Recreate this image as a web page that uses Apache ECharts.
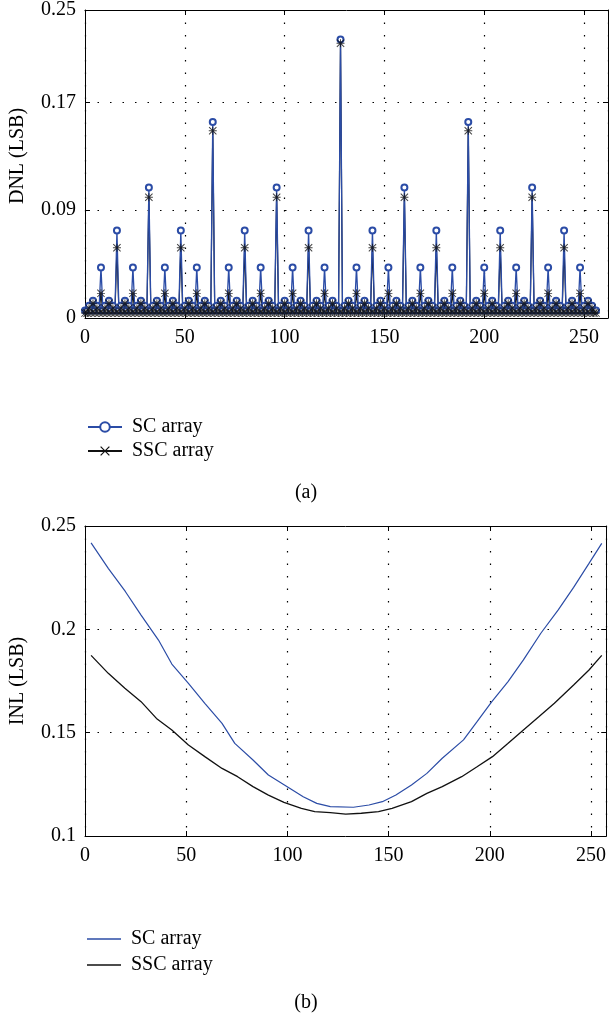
<!DOCTYPE html>
<html><head><meta charset="utf-8">
<script src="https://cdn.jsdelivr.net/npm/echarts@6/dist/echarts.min.js"></script>
<style>html,body{margin:0;padding:0;background:#fff}#c{width:609px;height:1020px}</style>
</head><body><div id="c"></div>
<script>
// ---------- (a) DNL data, code index 0..256 ----------
const dnlSC = [
0.006,0.006,0.010,0.006,0.014,0.006,0.010,0.006,
0.041,0.006,0.010,0.006,0.014,0.006,0.010,0.006,
0.071,0.006,0.010,0.006,0.014,0.006,0.010,0.006,
0.041,0.006,0.010,0.006,0.014,0.006,0.010,0.006,
0.106,0.006,0.010,0.006,0.014,0.006,0.010,0.006,
0.041,0.006,0.010,0.006,0.014,0.006,0.010,0.006,
0.071,0.006,0.010,0.006,0.014,0.006,0.010,0.006,
0.041,0.006,0.010,0.006,0.014,0.006,0.010,0.006,
0.159,0.006,0.010,0.006,0.014,0.006,0.010,0.006,
0.041,0.006,0.010,0.006,0.014,0.006,0.010,0.006,
0.071,0.006,0.010,0.006,0.014,0.006,0.010,0.006,
0.041,0.006,0.010,0.006,0.014,0.006,0.010,0.006,
0.106,0.006,0.010,0.006,0.014,0.006,0.010,0.006,
0.041,0.006,0.010,0.006,0.014,0.006,0.010,0.006,
0.071,0.006,0.010,0.006,0.014,0.006,0.010,0.006,
0.041,0.006,0.010,0.006,0.014,0.006,0.010,0.006,
0.226,0.006,0.010,0.006,0.014,0.006,0.010,0.006,
0.041,0.006,0.010,0.006,0.014,0.006,0.010,0.006,
0.071,0.006,0.010,0.006,0.014,0.006,0.010,0.006,
0.041,0.006,0.010,0.006,0.014,0.006,0.010,0.006,
0.106,0.006,0.010,0.006,0.014,0.006,0.010,0.006,
0.041,0.006,0.010,0.006,0.014,0.006,0.010,0.006,
0.071,0.006,0.010,0.006,0.014,0.006,0.010,0.006,
0.041,0.006,0.010,0.006,0.014,0.006,0.010,0.006,
0.159,0.006,0.010,0.006,0.014,0.006,0.010,0.006,
0.041,0.006,0.010,0.006,0.014,0.006,0.010,0.006,
0.071,0.006,0.010,0.006,0.014,0.006,0.010,0.006,
0.041,0.006,0.010,0.006,0.014,0.006,0.010,0.006,
0.106,0.006,0.010,0.006,0.014,0.006,0.010,0.006,
0.041,0.006,0.010,0.006,0.014,0.006,0.010,0.006,
0.071,0.006,0.010,0.006,0.014,0.006,0.010,0.006,
0.041,0.006,0.010,0.006,0.014,0.006,0.010,0.006,
0.006
];
const dnlSSC = [
0.004,0.004,0.008,0.004,0.012,0.004,0.008,0.004,
0.020,0.004,0.008,0.004,0.012,0.004,0.008,0.004,
0.057,0.004,0.008,0.004,0.012,0.004,0.008,0.004,
0.020,0.004,0.008,0.004,0.012,0.004,0.008,0.004,
0.098,0.004,0.008,0.004,0.012,0.004,0.008,0.004,
0.020,0.004,0.008,0.004,0.012,0.004,0.008,0.004,
0.057,0.004,0.008,0.004,0.012,0.004,0.008,0.004,
0.020,0.004,0.008,0.004,0.012,0.004,0.008,0.004,
0.152,0.004,0.008,0.004,0.012,0.004,0.008,0.004,
0.020,0.004,0.008,0.004,0.012,0.004,0.008,0.004,
0.057,0.004,0.008,0.004,0.012,0.004,0.008,0.004,
0.020,0.004,0.008,0.004,0.012,0.004,0.008,0.004,
0.098,0.004,0.008,0.004,0.012,0.004,0.008,0.004,
0.020,0.004,0.008,0.004,0.012,0.004,0.008,0.004,
0.057,0.004,0.008,0.004,0.012,0.004,0.008,0.004,
0.020,0.004,0.008,0.004,0.012,0.004,0.008,0.004,
0.223,0.004,0.008,0.004,0.012,0.004,0.008,0.004,
0.020,0.004,0.008,0.004,0.012,0.004,0.008,0.004,
0.057,0.004,0.008,0.004,0.012,0.004,0.008,0.004,
0.020,0.004,0.008,0.004,0.012,0.004,0.008,0.004,
0.098,0.004,0.008,0.004,0.012,0.004,0.008,0.004,
0.020,0.004,0.008,0.004,0.012,0.004,0.008,0.004,
0.057,0.004,0.008,0.004,0.012,0.004,0.008,0.004,
0.020,0.004,0.008,0.004,0.012,0.004,0.008,0.004,
0.152,0.004,0.008,0.004,0.012,0.004,0.008,0.004,
0.020,0.004,0.008,0.004,0.012,0.004,0.008,0.004,
0.057,0.004,0.008,0.004,0.012,0.004,0.008,0.004,
0.020,0.004,0.008,0.004,0.012,0.004,0.008,0.004,
0.098,0.004,0.008,0.004,0.012,0.004,0.008,0.004,
0.020,0.004,0.008,0.004,0.012,0.004,0.008,0.004,
0.057,0.004,0.008,0.004,0.012,0.004,0.008,0.004,
0.020,0.004,0.008,0.004,0.012,0.004,0.008,0.004,
0.004
];
const dnlYTicks  = [0, 0.0875, 0.175, 0.25];
const dnlYLabels = ['0', '0.09', '0.17', '0.25'];
const xTickLabels = [0, 50, 100, 150, 200, 250];

// ---------- (b) INL data ----------
const inlScX  = [3,11.5,20,27.7,36.3,42.9,51.1,59.2,67.7,74,83,90.6,101.1,107.8,114.5,121.2,132.6,140.3,146.9,153.6,161.3,168.9,176.5,187,193.7,201,209,216.6,225.2,233.8,241.4,249,255.3];
const inlScY  = [0.2418,0.2295,0.2182,0.2069,0.1948,0.1832,0.1739,0.1642,0.1545,0.1448,0.1368,0.1295,0.1231,0.1190,0.1158,0.1142,0.1139,0.1150,0.1166,0.1198,0.1247,0.1303,0.1376,0.1465,0.1553,0.1650,0.1747,0.1852,0.1981,0.2094,0.2203,0.2319,0.2416];
const inlSscX = [3,11.5,19.7,27.7,35.3,42.9,51.1,59.2,67.7,75.4,83,90.6,98.3,106.9,113.5,121.2,128.8,136.5,145,151.7,161.3,168.9,176.5,186.1,193.7,201.3,208.9,216.6,224.2,231.9,241.4,249,255.3];
const inlSscY = [0.1874,0.1787,0.1715,0.1650,0.1569,0.1513,0.1440,0.1384,0.1327,0.1287,0.1239,0.1198,0.1163,0.1134,0.1118,0.1113,0.1106,0.1110,0.1118,0.1134,0.1166,0.1206,0.1239,0.1287,0.1335,0.1384,0.1448,0.1513,0.1577,0.1642,0.1731,0.1803,0.1874];

const FONT = '"Liberation Serif", "Times New Roman", serif';
const BLUE = '#2b4ca6';
const BLACK = '#111111';
const asterisk = 'path://M4.4 0L5.6 0L5.6 10L4.4 10Z M0 4.4L10 4.4L10 5.6L0 5.6Z M0.85 0L10 9.15L9.15 10L0 0.85Z M9.15 0L10 0.85L0.85 10L0 9.15Z';
const cross = 'path://M0.9 0L10 9.1L9.1 10L0 0.9Z M9.1 0L10 0.9L0.9 10L0 9.1Z';
const dotted = {color:'#000', width:1.2, type:[1.5, 11]};
const lbl = {color:'#000', fontFamily:FONT, fontSize:20};

function xAxes(grid, max, showLabels, pos){
  return {
    gridIndex:grid, type:'value', min:0, max:max, interval:50, position:pos,
    axisLine:{show:true, onZero:false, lineStyle:{color:'#000', width:1}},
    axisTick:{show:true, inside:true, length:5, lineStyle:{color:'#000'}},
    axisLabel: showLabels ? Object.assign({margin:10, showMaxLabel:false,
      formatter:v => xTickLabels.includes(v) ? String(v) : ''}, lbl) : {show:false},
    splitLine: showLabels ? {show:true, lineStyle:dotted} : {show:false}
  };
}

const chart = echarts.init(document.getElementById('c'), null, {renderer:'canvas'});
chart.setOption({
  animation:false,
  backgroundColor:'#fff',
  grid:[
    {left:84, top:8, width:524, height:310, containLabel:false},
    {left:84, top:526, width:524, height:310, containLabel:false}
  ],
  xAxis:[
    xAxes(0, 262, true, 'bottom'),
    xAxes(0, 262, false, 'top'),
    xAxes(1, 257.5, true, 'bottom'),
    xAxes(1, 257.5, false, 'top')
  ],
  yAxis:[
    {gridIndex:0, type:'value', min:0, max:0.25, interval:0.0875, position:'left',
     name:'DNL (LSB)', nameLocation:'middle', nameGap:57,
     nameTextStyle:{color:'#000', fontFamily:FONT, fontSize:20, padding:[0,0,0,16]},
     axisLine:{show:true, onZero:false, lineStyle:{color:'#000'}},
     axisTick:{show:true, inside:true, length:5, lineStyle:{color:'#000'}},
     axisLabel:Object.assign({margin:9, formatter:v => {
        for (let i=0;i<dnlYTicks.length;i++) if (Math.abs(v-dnlYTicks[i])<1e-6) return dnlYLabels[i];
        return ''; }}, lbl),
     splitLine:{show:true, lineStyle:dotted}},
    {gridIndex:0, type:'value', min:0, max:0.25, interval:0.0875, position:'right',
     axisLine:{show:true, onZero:false, lineStyle:{color:'#000'}},
     axisTick:{show:true, inside:true, length:5, lineStyle:{color:'#000'}},
     axisLabel:{show:false}, splitLine:{show:false}},
    {gridIndex:1, type:'value', min:0.1, max:0.25, interval:0.05, position:'left',
     name:'INL (LSB)', nameLocation:'middle', nameGap:57,
     nameTextStyle:{color:'#000', fontFamily:FONT, fontSize:20},
     axisLine:{show:true, onZero:false, lineStyle:{color:'#000'}},
     axisTick:{show:true, inside:true, length:5, lineStyle:{color:'#000'}},
     axisLabel:Object.assign({margin:9, formatter:v => String(+v.toFixed(2))}, lbl),
     splitLine:{show:true, lineStyle:dotted}},
    {gridIndex:1, type:'value', min:0.1, max:0.25, interval:0.05, position:'right',
     axisLine:{show:true, onZero:false, lineStyle:{color:'#000'}},
     axisTick:{show:true, inside:true, length:5, lineStyle:{color:'#000'}},
     axisLabel:{show:false}, splitLine:{show:false}}
  ],
  legend:[
    {data:['SC array','SSC array'], orient:'vertical', left:82, top:412,
     itemWidth:34, itemHeight:12, itemGap:4, selectedMode:false,
     textStyle:{color:'#000', fontFamily:FONT, fontSize:20, padding:[0,0,0,5]}},
    {data:[{name:'SC array (b)', icon:'rect'},{name:'SSC array (b)', icon:'rect'}],
     orient:'vertical', left:82, top:924,
     itemWidth:34, itemHeight:1.4, itemGap:6, selectedMode:false,
     formatter:n => n.replace(' (b)',''),
     textStyle:{color:'#000', fontFamily:FONT, fontSize:20, padding:[0,0,0,5]}}
  ],
  graphic:[
    {type:'text', x:306, y:493, style:{text:'(a)', fill:'#000', font:'20px ' + FONT, textAlign:'center', textVerticalAlign:'middle'}},
    {type:'text', x:306, y:1003, style:{text:'(b)', fill:'#000', font:'20px ' + FONT, textAlign:'center', textVerticalAlign:'middle'}}
  ],
  series:[
    {name:'SSC array', type:'line', xAxisIndex:0, yAxisIndex:0, z:2,
     data:dnlSSC.map((v,i)=>[i,v]), symbol:cross, symbolSize:7, showSymbol:false,
     lineStyle:{color:BLACK, width:1.2}, itemStyle:{color:BLACK}},
    {name:'SC array', type:'line', xAxisIndex:0, yAxisIndex:0, z:3,
     data:dnlSC.map((v,i)=>[i,v]), symbol:'emptyCircle', symbolSize:6, showSymbol:true,
     lineStyle:{color:BLUE, width:1.3}, itemStyle:{color:BLUE, borderColor:BLUE, borderWidth:1.2}},
    {name:'SSC markers', type:'scatter', xAxisIndex:0, yAxisIndex:0, z:4,
     data:dnlSSC.map((v,i)=>[i,v]), symbol:asterisk, symbolSize:8,
     itemStyle:{color:BLACK}},
    {name:'SC array (b)', type:'line', xAxisIndex:2, yAxisIndex:2, z:3,
     data:inlScX.map((x,i)=>[x,inlScY[i]]), symbol:'none',
     lineStyle:{color:BLUE, width:1.2}, itemStyle:{color:BLUE}},
    {name:'SSC array (b)', type:'line', xAxisIndex:2, yAxisIndex:2, z:2,
     data:inlSscX.map((x,i)=>[x,inlSscY[i]]), symbol:'none',
     lineStyle:{color:BLACK, width:1.3}, itemStyle:{color:BLACK}}
  ]
});
</script>
</body></html>
